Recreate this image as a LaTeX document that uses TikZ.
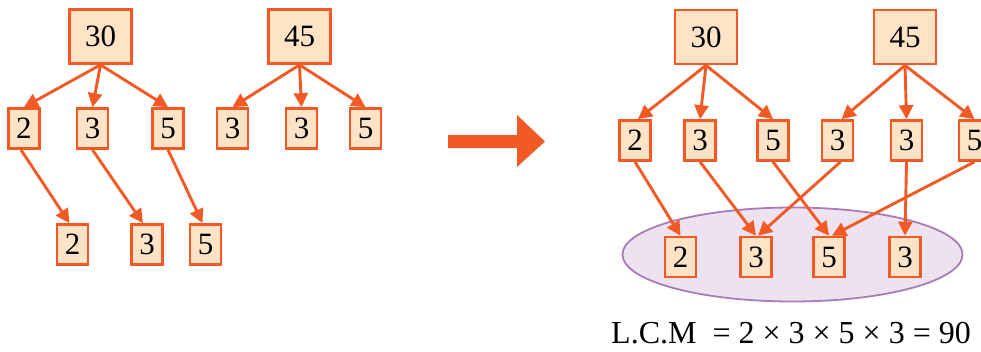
\documentclass[tikz,border=0pt]{standalone}
\usepackage{fontspec}
\setmainfont{Liberation Serif}
\usetikzlibrary{arrows.meta,shapes.geometric}
\definecolor{org}{HTML}{F15A24}
\definecolor{peach}{HTML}{FFE3C7}
\definecolor{lav}{HTML}{EDE2EF}
\definecolor{purp}{HTML}{A97BB8}
\begin{document}
\begin{tikzpicture}[x=1pt,y=-1pt,
 bigbox/.style={draw=org,fill=peach,line width=2.7pt,minimum width=62pt,minimum height=54pt,inner sep=0pt,font=\fontsize{31}{33}\selectfont},
 smallbox/.style={draw=org,fill=peach,line width=2.7pt,minimum width=31pt,minimum height=40pt,inner sep=0pt,font=\fontsize{31}{33}\selectfont},
 conn/.style={draw=org,line width=2.9pt,-{Triangle[length=14pt,width=14pt]}}]
\useasboundingbox (0,0) rectangle (981,351);
\clip (0,0) rectangle (981,351);
% ---------- left ----------
\node[bigbox] (a30) at (100.5,36.5) {30};
\node[bigbox] (a45) at (299.5,36.5) {45};
\node[smallbox] (a2) at (24,128.5) {2};
\node[smallbox] (a3) at (92.5,128.5) {3};
\node[smallbox] (a5) at (168,128.5) {5};
\node[smallbox] (b3) at (232.5,128.5) {3};
\node[smallbox] (b3b) at (301.5,128.5) {3};
\node[smallbox] (b5) at (365.5,128.5) {5};
\node[smallbox] (c2) at (72.5,244.5) {2};
\node[smallbox] (c3) at (147,244.5) {3};
\node[smallbox] (c5) at (205.5,244.5) {5};
\draw[conn] (a30.south) -- (a2.north);
\draw[conn] (a30.south) -- (a3.north);
\draw[conn] (a30.south) -- (a5.north);
\draw[conn] (a45.south) -- (b3.north);
\draw[conn] (a45.south) -- (b3b.north);
\draw[conn] (a45.south) -- (b5.north);
\draw[conn] ([xshift=-3pt]a2.south) -- ([xshift=-3pt]c2.north);
\draw[conn] (a3.south) -- ([xshift=-4pt]c3.north);
\draw[conn] (a5.south) -- ([xshift=-3pt]c5.north);
% ---------- big arrow ----------
\fill[org] (448,135) -- (517,135) -- (517,115) -- (545,141.5) -- (517,167) -- (517,148) -- (448,148) -- cycle;
% ---------- right ----------
\node[ellipse,draw=purp,fill=lav,line width=1.8pt,minimum width=340pt,minimum height=94pt,inner sep=0pt] (ell) at (792.5,254.5) {};
\node[bigbox] (r30) at (706,37) {30};
\node[bigbox] (r45) at (905,37) {45};
\node[smallbox] (r2) at (635,140.5) {2};
\node[smallbox] (r3) at (700,140.5) {3};
\node[smallbox] (r5) at (773,140.5) {5};
\node[smallbox] (s3) at (837.5,140.5) {3};
\node[smallbox] (s3b) at (906.5,140.5) {3};
\node[smallbox] (s5) at (974.5,140.5) {5};
\node[smallbox] (t2) at (680.5,257) {2};
\node[smallbox] (t3) at (756,257) {3};
\node[smallbox] (t5) at (829,257) {5};
\node[smallbox] (t3b) at (905,257) {3};
\draw[conn] (r30.south) -- ([xshift=3pt]r2.north);
\draw[conn] (r30.south) -- (r3.north);
\draw[conn] (r30.south) -- (r5.north);
\draw[conn] (r45.south) -- ([xshift=4pt]s3.north);
\draw[conn] (r45.south) -- (s3b.north);
\draw[conn] (r45.south) -- (s5.north);
\draw[conn] (r2.south) -- (t2.north);
\draw[conn] (r3.south) -- (t3.north);
\draw[conn] (r5.south) -- (t5.north);
\draw[conn] ([xshift=3pt]s3.south) -- ([xshift=2pt]t3.north);
\draw[conn] (s3b.south) -- (t3b.north);
\draw[conn] (s5.south) -- ([xshift=3pt]t5.north);
\node[font=\fontsize{32}{34}\selectfont,inner sep=0pt] (lcm) at (791,333) {L.C.M\ \ = 2 × 3 × 5 × 3 = 90};
\end{tikzpicture}
\end{document}
